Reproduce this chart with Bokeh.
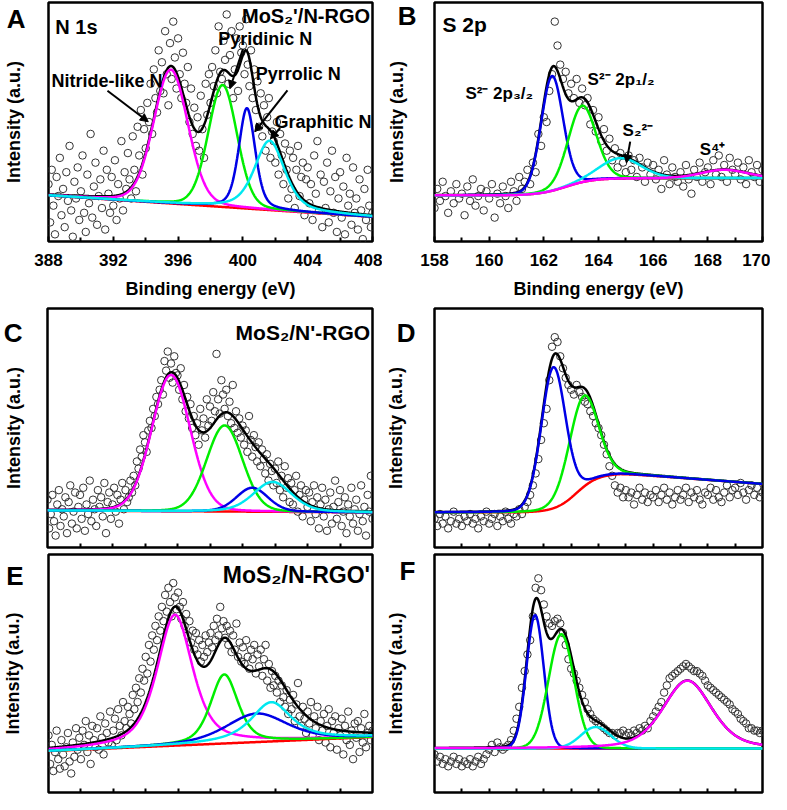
import numpy as np
from bokeh.plotting import figure
from bokeh.layouts import column, row
from bokeh.models import Range1d, Label, Arrow, NormalHead, FixedTicker, CustomJSTickFormatter
from bokeh.embed import file_html
from bokeh.resources import INLINE

FONT = "Liberation Sans"

# ---------------- DATA ----------------
# energy grids of the recorded spectra (eV)
n1s_start, n1s_step = 388.0, 0.1
s2p_start, s2p_step = 158.0, 0.1

# measured intensities (percent of panel height), one per grid point
a_counts = [24, 8, 30, 15, 3, 27, 19, 35, 11, 22,
            6, 29, 17, 40, 13, 2, 25, 18, 31, 9,
            21, 36, 12, 4, 28, 16, 45, 10, 23, 33,
            7, 19, 26, 14, 38, 5, 30, 20, 12, 27,
            15, 34, 9, 24, 18, 42, 13, 29, 22, 37,
            26, 18, 44, 30, 21, 48, 36, 55, 28, 47,
            39, 58, 50, 66, 45, 72, 60, 54, 80, 63,
            75, 62, 88, 70, 57, 83, 68, 92, 77, 64,
            85, 70, 60, 79, 66, 58, 73, 50, 64, 45,
            56, 40, 52, 38, 61, 47, 35, 66, 53, 70,
            58, 73, 65, 80, 62, 90, 71, 68, 84, 76,
            95, 66, 78, 88, 60, 72, 85, 63, 90, 79,
            82, 70, 93, 74, 65, 80, 60, 72, 55, 67,
            48, 62, 44, 57, 38, 52, 60, 35, 46, 42,
            33, 50, 28, 45, 36, 24, 41, 30, 18, 38,
            22, 35, 14, 30, 40, 19, 27, 33, 11, 26,
            31, 16, 24, 9, 36, 20, 42, 13, 28, 6,
            25, 14, 33, 8, 21, 38, 12, 27, 4, 18,
            29, 10, 23, 3, 35, 15, 20, 7, 31, 12,
            18, 5, 26, 13, 1, 22, 9, 30, 15, 6,
            12]

b_counts = [14, 22, 17, 25, 19, 12, 21, 16, 24, 18,
            20, 11, 23, 17, 26, 15, 19, 22, 13, 21,
            18, 24, 10, 20, 16, 23, 19, 14, 25, 21,
            17, 27, 22, 25, 30, 24, 33, 29, 45, 40,
            52, 50, 63, 70, 92, 82, 74, 68, 71, 62,
            66, 60, 68, 58, 64, 57, 60, 49, 55, 46,
            52, 42, 47, 38, 43, 34, 39, 31, 37, 33,
            29, 36, 30, 34, 27, 35, 31, 25, 33, 28,
            32, 26, 30, 22, 34, 28, 24, 31, 27, 25,
            29, 23, 32, 26, 20, 30, 27, 33, 25, 29,
            31, 24, 34, 28, 36, 27, 32, 25, 35, 30,
            28, 33, 26, 31, 24, 34, 29, 27, 32, 25,
            30]

c_counts = [20, 8, 14, 22, 11, 5, 18, 24, 9, 16,
            13, 21, 6, 19, 26, 10, 15, 23, 8, 17,
            22, 12, 25, 7, 18, 14, 28, 11, 20, 16,
            9, 24, 17, 21, 13, 27, 6, 19, 23, 12,
            18, 25, 15, 22, 10, 20, 27, 16, 24, 19,
            21, 28, 23, 30, 26, 36, 33, 41, 38, 47,
            44, 40, 49, 53, 50, 58, 55, 63, 60, 66,
            70, 64, 78, 74, 82, 71, 77, 69, 80, 73,
            72, 66, 75, 62, 68, 57, 63, 54, 60, 50,
            55, 47, 52, 43, 58, 49, 54, 46, 62, 51,
            59, 53, 65, 57, 81, 62, 56, 70, 64, 58,
            66, 55, 61, 52, 68, 50, 57, 48, 54, 46,
            51, 43, 49, 40, 55, 45, 38, 47, 42, 36,
            44, 34, 41, 37, 31, 39, 28, 35, 32, 26,
            33, 27, 36, 24, 30, 21, 34, 25, 29, 19,
            27, 18, 24, 30, 15, 22, 26, 13, 20, 24,
            17, 23, 11, 19, 26, 14, 21, 8, 18, 25,
            13, 20, 7, 16, 23, 10, 17, 28, 12, 19,
            24, 9, 15, 21, 6, 18, 13, 25, 10, 16,
            20, 7, 14, 26, 11, 17, 5, 22, 15, 30,
            12]

d_counts = [12, 9, 14, 10, 13, 8, 11, 15, 10, 12,
            9, 13, 11, 14, 10, 12, 8, 13, 11, 15,
            10, 12, 14, 9, 13, 11, 15, 12, 10, 14,
            13, 16, 14, 17, 19, 22, 26, 31, 37, 45,
            52, 58, 70, 84, 88, 86, 80, 75, 71, 68,
            66, 64, 68, 65, 63, 61, 60, 57, 55, 52,
            50, 47, 43, 39, 34, 30, 26, 23, 25, 21,
            24, 21, 23, 18, 22, 25, 20, 23, 19, 22,
            21, 24, 19, 22, 25, 20, 23, 18, 21, 24,
            20, 22, 25, 19, 23, 21, 24, 20, 18, 23,
            22, 25, 20, 24, 21, 19, 23, 26, 21, 24,
            25, 22, 27, 23, 20, 24, 26, 22, 25, 21,
            23]

e_counts = [24, 12, 20, 9, 17, 26, 14, 10, 22, 16,
            11, 19, 25, 13, 8, 21, 15, 27, 18, 23,
            14, 26, 20, 30, 17, 24, 12, 28, 22, 19,
            27, 18, 32, 23, 16, 29, 25, 21, 34, 20,
            26, 31, 22, 35, 28, 24, 38, 30, 27, 36,
            33, 29, 41, 35, 44, 38, 48, 42, 52, 47,
            57, 50, 62, 55, 66, 60, 70, 64, 74, 68,
            78, 72, 83, 76, 86, 80, 74, 88, 82, 77,
            84, 78, 73, 80, 70, 75, 66, 72, 63, 68,
            60, 67, 58, 64, 55, 62, 57, 66, 59, 63,
            67, 61, 70, 64, 73, 66, 78, 69, 72, 65,
            70, 62, 68, 59, 66, 60, 71, 57, 63, 55,
            61, 54, 64, 57, 52, 60, 56, 62, 50, 58,
            53, 60, 49, 56, 62, 47, 54, 44, 51, 45,
            49, 42, 47, 38, 45, 40, 36, 43, 33, 39,
            35, 41, 30, 37, 46, 32, 28, 36, 31, 25,
            34, 29, 38, 24, 32, 27, 36, 22, 30, 26,
            33, 21, 28, 35, 19, 30, 25, 32, 18, 27,
            24, 31, 16, 28, 22, 34, 20, 26, 14, 29,
            23, 30, 17, 27, 21, 33, 19, 25, 28, 22,
            26]

f_counts = [16, 13, 15, 12, 14, 11, 13, 15, 12, 14,
            11, 13, 12, 14, 11, 13, 15, 12, 14, 16,
            18, 20, 17, 21, 19, 18, 19, 20, 22, 26,
            31, 36, 44, 51, 58, 64, 74, 86, 90, 85,
            79, 74, 71, 70, 72, 73, 71, 67, 62, 56,
            52, 50, 47, 44, 41, 38, 35, 33, 31, 30,
            29, 28, 27, 26, 25, 25, 24, 25, 25, 26,
            24, 25, 24, 26, 25, 27, 26, 28, 27, 30,
            32, 34, 36, 38, 42, 45, 48, 49, 50, 51,
            52, 53, 54, 53, 52, 51, 51, 50, 49, 47,
            45, 44, 43, 42, 41, 40, 39, 38, 37, 35,
            34, 33, 31, 30, 29, 27, 27, 26, 26, 25,
            26]

# fitted components: (centre eV, height %, FWHM eV, Lorentzian fraction)
a_fit = {"nitride": (395.55, 56, 2.5, 0.15), "pyridinic": (398.75, 51, 2.1, 0.15),
         "pyrrolic": (400.25, 42, 1.2, 0.4), "graphitic": (401.65, 29, 2.2, 0.5)}
b_fit = {"s2_3/2": (162.3, 48, 0.95, 0.1), "s2_1/2": (163.4, 32, 1.2, 0.1),
         "s2_2": (164.8, 8.5, 1.8, 0.1), "s4": (168.6, 3.5, 2.0, 0.1)}
c_fit = {"nitride": (395.6, 57, 2.8, 0.1), "pyridinic": (398.9, 36, 2.6, 0.1),
         "pyrrolic": (400.6, 10, 2.3, 0.2), "graphitic": (401.85, 12.5, 2.8, 0.3)}
d_fit = {"s2_3/2": (162.35, 59, 1.05, 0.1), "s2_1/2": (163.45, 38, 1.25, 0.1)}
e_fit = {"nitride": (395.8, 55, 2.6, 0.6), "pyridinic": (398.85, 29, 2.0, 0.5),
         "pyrrolic": (400.85, 12, 4.5, 0.5), "graphitic": (401.75, 16.5, 3.0, 0.8)}
f_fit = {"s2_3/2": (161.68, 56, 0.75, 0.05), "s2_1/2": (162.64, 48, 1.1, 0.05),
         "s2_2": (163.9, 9, 1.3, 0.05), "s4": (167.25, 28.5, 2.1, 0.4)}

# backgrounds: (low level, high level, step centre, step width, slope, slope start)
a_bg = (19.3, 19.3, 398.0, 1.0, -0.45, 388.0)
b_bg = (19.3, 26.5, 162.8, 0.5, 0.0, 165.0)
c_bg = (15.5, 15.5, 398.0, 1.0, -0.04, 388.0)
d_bg = (14.7, 31.0, 163.2, 0.4, -0.85, 164.8)
e_bg = (17.4, 17.4, 398.0, 1.0, 0.295, 388.0)
f_bg = (18.5, 18.5, 165.0, 1.0, 0.0, 158.0)

n1s_major = [388, 392, 396, 400, 404, 408]
n1s_minor = [390, 394, 398, 402, 406]
n1s_all = [390, 392, 394, 396, 398, 400, 402, 404, 406]
s2p_major = [158, 160, 162, 164, 166, 168, 170]
s2p_minor = [159, 161, 163, 165, 167, 169]
s2p_all = [159, 160, 161, 162, 163, 164, 165, 166, 167, 168, 169]

# ---------------- STYLE ----------------
COL = {"nitride": "#FF00FF", "pyridinic": "#00EE00", "pyrrolic": "#0000E6", "graphitic": "#00E8F0",
       "s2_3/2": "#0000E6", "s2_1/2": "#00EE00", "s2_2": "#00E8F0", "s4": "#FF00FF"}


def pvoigt(x, c, h, w, eta):
    t = (x - c) / w
    return h * ((1 - eta) * np.exp(-4 * np.log(2) * t * t) + eta / (1 + 4 * t * t))


def background(x, lo, hi, xc, s, slope, xs):
    return lo + (hi - lo) / (1 + np.exp(-(x - xc) / s)) + slope * np.clip(x - xs, 0, None)


def make_panel(xr, w, h, borders, major, minor, labelled, letter, letter_y,
               letter_gap, title_gap):
    p = figure(width=w, height=h, x_range=Range1d(*xr), y_range=Range1d(0, 100),
               output_backend="svg", toolbar_location=None,
               min_border_left=borders[0], min_border_right=borders[1],
               min_border_top=borders[2], min_border_bottom=borders[3])
    p.grid.visible = False
    p.outline_line_color = "black"
    p.outline_line_width = 2.5
    p.outline_line_alpha = 1
    ax = p.xaxis[0]
    ax.ticker = FixedTicker(ticks=major, minor_ticks=minor)
    ax.axis_line_color = None
    ax.major_tick_in = 5
    ax.major_tick_out = 0
    ax.minor_tick_in = 4
    ax.minor_tick_out = 0
    ax.major_tick_line_width = 2
    ax.minor_tick_line_width = 2
    ax.major_tick_line_color = "black"
    ax.minor_tick_line_color = "black"
    ax.major_label_text_font = FONT
    ax.major_label_text_font_style = "bold"
    ax.major_label_text_font_size = "17px"
    ax.major_label_text_color = "black"
    ax.major_label_standoff = 12
    if labelled:
        ax.axis_label = "Binding energy (eV)"
        ax.axis_label_text_font = FONT
        ax.axis_label_text_font_style = "bold"
        ax.axis_label_text_font_size = "18px"
        ax.axis_label_text_color = "black"
        ax.axis_label_standoff = 10
    # left axis: panel letter as its single tick label, intensity as its title
    ay = p.yaxis[0]
    ay.ticker = FixedTicker(ticks=[letter_y])
    ay.formatter = CustomJSTickFormatter(code="return '%s';" % letter)
    ay.axis_line_color = None
    ay.major_tick_line_color = None
    ay.minor_tick_line_color = None
    ay.major_tick_out = 0
    ay.major_tick_in = 0
    ay.major_label_text_font = FONT
    ay.major_label_text_font_style = "bold"
    ay.major_label_text_font_size = "26px"
    ay.major_label_text_color = "black"
    ay.major_label_standoff = letter_gap
    ay.axis_label = "Intensity (a.u.)"
    ay.axis_label_text_font = FONT
    ay.axis_label_text_font_style = "bold"
    ay.axis_label_text_font_size = "18px"
    ay.axis_label_text_color = "black"
    ay.axis_label_standoff = title_gap
    return p


def draw_spectrum(p, x0, step, counts, bg, fit, order, xr):
    xs = x0 + step * np.arange(len(counts))
    p.scatter(xs, counts, marker="circle", size=7.5, fill_color=None,
              line_color="#333333", line_width=1)
    xf = np.linspace(xr[0], xr[1], 700)
    base = background(xf, *bg)
    comps = {k: pvoigt(xf, *v) for k, v in fit.items()}
    total = base + sum(comps.values())
    for key in order:
        if key == "red":
            p.line(xf, base, line_color="#FF0000", line_width=2.5)
        elif key == "black":
            p.line(xf, total, line_color="black", line_width=2.5)
        else:
            p.line(xf, base + comps[key], line_color=COL[key], line_width=2.5)


def text(p, x, y, t, size, align="left"):
    p.add_layout(Label(x=x, y=y, text=t, text_font=FONT, text_font_style="bold",
                       text_font_size=size, text_color="black", text_align=align,
                       text_baseline="middle"))


def arrow(p, x0, y0, x1, y1):
    p.add_layout(Arrow(end=NormalHead(size=8, fill_color="black", line_color="black"),
                       x_start=x0, y_start=y0, x_end=x1, y_end=y1,
                       line_color="black", line_width=2))


NX = (388, 408)
SX = (158, 170)

pA = make_panel(NX, 382, 306, (42, 10, 2, 65), n1s_major, n1s_minor, True, "A", 93, 23, -20)
pB = make_panel(SX, 388, 306, (52, 8, 2, 65), s2p_major, s2p_minor, True, "B", 94.5, 18, -12)
pC = make_panel(NX, 382, 246, (42, 10, 2, 5), [], n1s_all, False, "C", 99.5, 25, -23)
pD = make_panel(SX, 388, 246, (52, 8, 2, 5), [], s2p_all, False, "D", 99.5, 19, -12)
pE = make_panel(NX, 382, 242, (42, 10, 2, 2), [], n1s_all, False, "E", 91, 25, -20)
pF = make_panel(SX, 388, 242, (52, 8, 2, 2), [], s2p_all, False, "F", 93, 19, -9)

n_order = ["red", "black", "nitride", "pyridinic", "pyrrolic", "graphitic"]
draw_spectrum(pA, n1s_start, n1s_step, a_counts, a_bg, a_fit, n_order, NX)
draw_spectrum(pB, s2p_start, s2p_step, b_counts, b_bg, b_fit,
              ["red", "black", "s2_3/2", "s2_1/2", "s2_2", "s4"], SX)
draw_spectrum(pC, n1s_start, n1s_step, c_counts, c_bg, c_fit, n_order, NX)
draw_spectrum(pD, s2p_start, s2p_step, d_counts, d_bg, d_fit,
              ["red", "black", "s2_1/2", "s2_3/2"], SX)
draw_spectrum(pE, n1s_start, n1s_step, e_counts, e_bg, e_fit, n_order, NX)
draw_spectrum(pF, s2p_start, s2p_step, f_counts, f_bg, f_fit,
              ["red", "black", "s2_3/2", "s2_1/2", "s2_2", "s4"], SX)

# panel A annotations
text(pA, 388.42, 89.6, "N 1s", "20px")
text(pA, 407.85, 94.2, "MoS₂'/N-RGO", "20px", "right")
text(pA, 398.48, 84.6, "Pyridinic N", "18px")
text(pA, 400.79, 70.1, "Pyrrolic N", "18px")
text(pA, 401.95, 50.2, "Graphitic N", "18px")
text(pA, 388.18, 67.2, "Nitride-like N", "18px")
arrow(pA, 391.64, 63.1, 394.16, 50.1)
arrow(pA, 400.0, 80.5, 399.2, 63.9)
arrow(pA, 402.75, 63.2, 400.73, 45.9)
arrow(pA, 402.3, 47.5, 401.7, 43.0)

# panel B annotations
text(pB, 158.29, 90.6, "S 2p", "21px")
text(pB, 159.13, 62.0, "S²⁻ 2p₃/₂", "17px")
text(pB, 163.6, 67.8, "S²⁻ 2p₁/₂", "17px")
text(pB, 164.88, 46.5, "S₂²⁻", "17px")
text(pB, 167.7, 38.4, "S⁴⁺", "17px")
arrow(pB, 165.16, 41.8, 165.02, 32.9)

text(pC, 407.85, 90.0, "MoS₂/N'-RGO", "21px", "right")
text(pE, 407.85, 91.4, "MoS₂/N-RGO'", "23px", "right")

layout = column(row(pA, pB), row(pC, pD), row(pE, pF))
open("out.html", "w").write(file_html(layout, INLINE))
